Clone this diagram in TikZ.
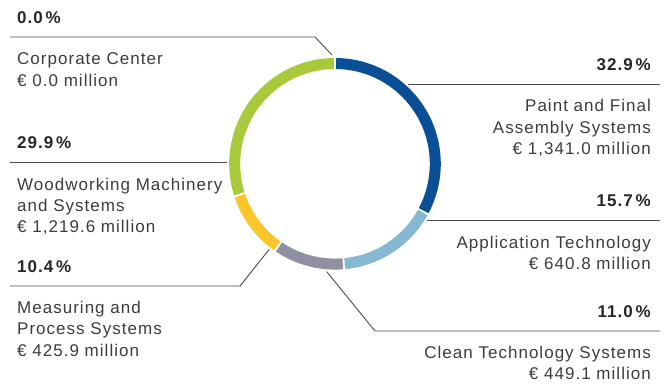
\documentclass[tikz,border=0pt]{standalone}
\usepackage{fontspec}
\setmainfont{Liberation Sans}[LetterSpace=6]
\usepackage{tikz}
\usetikzlibrary{positioning}
\definecolor{paintblue}{HTML}{0A4F96}
\definecolor{appblue}{HTML}{86B8D2}
\definecolor{cleangray}{HTML}{8F90A3}
\definecolor{measyellow}{HTML}{FBC62B}
\definecolor{woodgreen}{HTML}{A7C93A}
\definecolor{txtgray}{HTML}{3C3C3C}
\definecolor{leadgray}{HTML}{4A4A4A}

\begin{document}
\begin{tikzpicture}[x=1pt,y=1pt,
  ring/.style={line width=11pt},
  leader/.style={draw=leadgray,line width=0.9pt},
  pct/.style={inner sep=0pt,text=black!85,font=\fontsize{17}{21.4}\selectfont\bfseries},
  lbl/.style={inner sep=0pt,text=txtgray,font=\fontsize{17}{21.4}\selectfont}]
  \useasboundingbox (0,0) rectangle (668,385);
  \def\r{100.3}
  \coordinate (ctr) at (335,221.2);
  % ring
  \draw[ring,paintblue] (ctr) ++(89.4:\r) arc[start angle=89.4,end angle=-27.84,radius=\r];
  \draw[ring,appblue] (ctr) ++(-29.04:\r) arc[start angle=-29.04,end angle=-84.36,radius=\r];
  \draw[ring,cleangray] (ctr) ++(-85.56:\r) arc[start angle=-85.56,end angle=-123.96,radius=\r];
  \draw[ring,measyellow] (ctr) ++(-125.16:\r) arc[start angle=-125.16,end angle=-161.4,radius=\r];
  \draw[ring,woodgreen] (ctr) ++(-162.6:\r) arc[start angle=-162.6,end angle=-269.4,radius=\r];
  % leader lines
  \coordinate (cc-l) at (10,348);
  \coordinate (cc-k) at (315,348);
  \coordinate (cc-r) at (332,330);
  \coordinate (ww-l) at (10,222.3);
  \coordinate (ww-r) at (227,222.3);
  \coordinate (mp-l) at (10,99);
  \coordinate (mp-k) at (240,99);
  \coordinate (mp-r) at (269.3,135.7);
  \coordinate (pf-l) at (408,300.7);
  \coordinate (pf-r) at (660,300.7);
  \coordinate (at-l) at (427,164.4);
  \coordinate (at-r) at (660,164.4);
  \coordinate (ct-l) at (326.7,113.3);
  \coordinate (ct-k) at (375,54);
  \coordinate (ct-r) at (660,54);
  \draw[leader] (cc-l) -- (cc-k) -- (cc-r);
  \draw[leader] (ww-l) -- (ww-r);
  \draw[leader] (mp-l) -- (mp-k) -- (mp-r);
  \draw[leader] (pf-l) -- (pf-r);
  \draw[leader] (at-l) -- (at-r);
  \draw[leader] (ct-l) -- (ct-k) -- (ct-r);
  % left labels
  \node[pct,anchor=base west] (cc-pct) at (17,361.7) {0.0\,\%};
  \node[lbl,anchor=base west,align=left] (cc-txt) at (17,298.8) {Corporate Center\\€ 0.0 million};
  \node[pct,anchor=base west] (ww-pct) at (17,236) {29.9\,\%};
  \node[lbl,anchor=base west,align=left] (ww-txt) at (17,152) {Woodworking Machinery\\and Systems\\€ 1,219.6 million};
  \node[pct,anchor=base west] (mp-pct) at (17,112.7) {10.4\,\%};
  \node[lbl,anchor=base west,align=left] (mp-txt) at (17,28.7) {Measuring and\\Process Systems\\€ 425.9 million};
  % right labels
  \node[pct,anchor=base east] (pf-pct) at (651,314.3) {32.9\,\%};
  \node[lbl,anchor=base east,align=right] (pf-txt) at (651,230.5) {Paint and Final\\Assembly Systems\\€ 1,341.0 million};
  \node[pct,anchor=base east] (at-pct) at (651,178.1) {15.7\,\%};
  \node[lbl,anchor=base east,align=right] (at-txt) at (651,115.5) {Application Technology\\€ 640.8 million};
  \node[pct,anchor=base east] (ct-pct) at (651,67.7) {11.0\,\%};
  \node[lbl,anchor=base east,align=right] (ct-txt) at (651,5.1) {Clean Technology Systems\\€ 449.1 million};
\end{tikzpicture}
\end{document}
